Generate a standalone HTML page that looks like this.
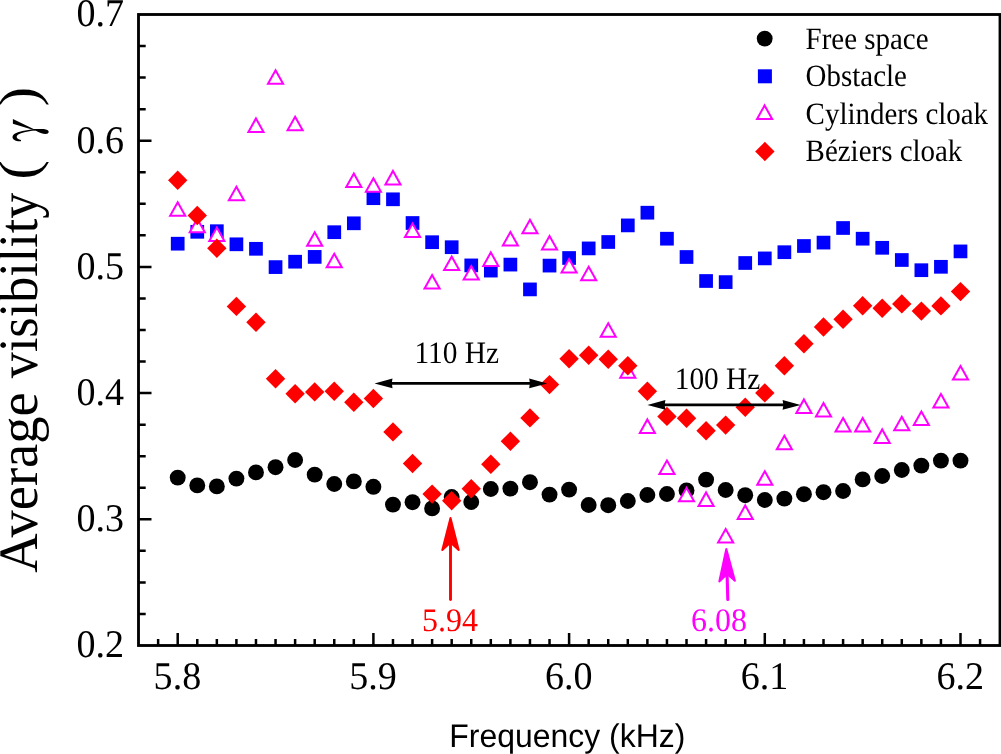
<!DOCTYPE html>
<html><head><meta charset="utf-8"><title>Average visibility</title>
<style>
html,body{margin:0;padding:0;background:#fff;}
body{width:1001px;height:754px;overflow:hidden;}
svg{display:block;}
text{font-family:"Liberation Serif",serif;text-rendering:geometricPrecision;}
.sans{font-family:"Liberation Sans",sans-serif;}
</style></head><body>
<svg width="1001" height="754" viewBox="0 0 1001 754" style="will-change:transform">
<rect x="0" y="0" width="1001" height="754" fill="#fff"/>
<path d="M139 613.95H145.7M139 582.40H145.7M139 550.85H145.7M139 519.30H151.5M139 487.75H145.7M139 456.20H145.7M139 424.65H145.7M139 393.10H151.5M139 361.55H145.7M139 330.00H145.7M139 298.45H145.7M139 266.90H151.5M139 235.35H145.7M139 203.80H145.7M139 172.25H145.7M139 140.70H151.5M139 109.15H145.7M139 77.60H145.7M139 46.05H145.7M158.13 645V639M177.70 645V633M197.27 645V639M216.84 645V639M236.41 645V639M255.98 645V639M275.55 645V639M295.12 645V639M314.69 645V639M334.26 645V639M353.83 645V639M373.40 645V633M392.97 645V639M412.54 645V639M432.11 645V639M451.68 645V639M471.25 645V639M490.82 645V639M510.39 645V639M529.96 645V639M549.53 645V639M569.10 645V633M588.67 645V639M608.24 645V639M627.81 645V639M647.38 645V639M666.95 645V639M686.52 645V639M706.09 645V639M725.66 645V639M745.23 645V639M764.80 645V633M784.37 645V639M803.94 645V639M823.51 645V639M843.08 645V639M862.65 645V639M882.22 645V639M901.79 645V639M921.36 645V639M940.93 645V639M960.50 645V633M980.07 645V639" stroke="#000" stroke-width="2.5" fill="none"/>
<rect x="138.5" y="14.5" width="861.5" height="631" fill="none" stroke="#000" stroke-width="2.85"/>
<text transform="translate(124.0 657.3) scale(0.972 1)" font-size="39.2" text-anchor="end" fill="#000">0.2</text>
<text transform="translate(124.0 531.1) scale(0.972 1)" font-size="39.2" text-anchor="end" fill="#000">0.3</text>
<text transform="translate(124.0 404.9) scale(0.972 1)" font-size="39.2" text-anchor="end" fill="#000">0.4</text>
<text transform="translate(124.0 278.7) scale(0.972 1)" font-size="39.2" text-anchor="end" fill="#000">0.5</text>
<text transform="translate(124.0 152.5) scale(0.972 1)" font-size="39.2" text-anchor="end" fill="#000">0.6</text>
<text transform="translate(124.0 26.3) scale(0.972 1)" font-size="39.2" text-anchor="end" fill="#000">0.7</text>
<text transform="translate(177.4 689.0) scale(0.972 1)" font-size="39.2" text-anchor="middle" fill="#000">5.8</text>
<text transform="translate(373.1 689.0) scale(0.972 1)" font-size="39.2" text-anchor="middle" fill="#000">5.9</text>
<text transform="translate(568.8 689.0) scale(0.972 1)" font-size="39.2" text-anchor="middle" fill="#000">6.0</text>
<text transform="translate(764.5 689.0) scale(0.972 1)" font-size="39.2" text-anchor="middle" fill="#000">6.1</text>
<text transform="translate(960.2 689.0) scale(0.972 1)" font-size="39.2" text-anchor="middle" fill="#000">6.2</text>
<text class="sans" transform="translate(449.3 746.9) scale(0.977 1.0)" font-size="32.7" text-anchor="start" fill="#000">Frequency (kHz)</text>
<text transform="translate(37.3 572.8) rotate(-90) scale(1.0 1.02)" font-size="54.5" text-anchor="start" fill="#000">Average</text>
<text transform="translate(37.3 378.2) rotate(-90) scale(0.957 1.02)" font-size="54.5" text-anchor="start" fill="#000">visibility</text>
<text transform="translate(37.3 179.5) rotate(-90) scale(1.06 1.02)" font-size="54.5" text-anchor="start" fill="#000">(</text>
<text transform="translate(37.3 106.3) rotate(-90) scale(1.06 1.02)" font-size="54.5" text-anchor="start" fill="#000">)</text>
<g transform="translate(0 110) scale(0.05995)" fill="#000"><path d="M215 150L560 318C620 318 680 312 730 318C780 325 812 340 812 362C812 385 790 400 760 400C710 400 650 370 600 345L215 228Z"/><path d="M590 322C500 325 400 345 300 372C240 390 208 420 208 452C208 490 250 518 300 520L350 520L350 500C310 495 278 475 278 448C278 420 310 400 350 388C420 365 520 345 590 342Z"/></g>
<g fill="#000"><circle cx="177.70" cy="477.60" r="7.95"/><circle cx="197.27" cy="485.40" r="7.95"/><circle cx="216.84" cy="486.40" r="7.95"/><circle cx="236.41" cy="478.60" r="7.95"/><circle cx="255.98" cy="472.40" r="7.95"/><circle cx="275.55" cy="467.20" r="7.95"/><circle cx="295.12" cy="460.00" r="7.95"/><circle cx="314.69" cy="474.60" r="7.95"/><circle cx="334.26" cy="484.00" r="7.95"/><circle cx="353.83" cy="481.40" r="7.95"/><circle cx="373.40" cy="486.80" r="7.95"/><circle cx="392.97" cy="504.60" r="7.95"/><circle cx="412.54" cy="502.20" r="7.95"/><circle cx="432.11" cy="508.40" r="7.95"/><circle cx="451.68" cy="497.00" r="7.95"/><circle cx="471.25" cy="502.00" r="7.95"/><circle cx="490.82" cy="489.00" r="7.95"/><circle cx="510.39" cy="488.60" r="7.95"/><circle cx="529.96" cy="482.20" r="7.95"/><circle cx="549.53" cy="494.60" r="7.95"/><circle cx="569.10" cy="489.60" r="7.95"/><circle cx="588.67" cy="505.00" r="7.95"/><circle cx="608.24" cy="505.20" r="7.95"/><circle cx="627.81" cy="501.00" r="7.95"/><circle cx="647.38" cy="495.00" r="7.95"/><circle cx="666.95" cy="494.00" r="7.95"/><circle cx="686.52" cy="490.40" r="7.95"/><circle cx="706.09" cy="479.60" r="7.95"/><circle cx="725.66" cy="490.00" r="7.95"/><circle cx="745.23" cy="495.20" r="7.95"/><circle cx="764.80" cy="500.00" r="7.95"/><circle cx="784.37" cy="498.60" r="7.95"/><circle cx="803.94" cy="494.20" r="7.95"/><circle cx="823.51" cy="492.20" r="7.95"/><circle cx="843.08" cy="491.00" r="7.95"/><circle cx="862.65" cy="479.40" r="7.95"/><circle cx="882.22" cy="476.00" r="7.95"/><circle cx="901.79" cy="470.00" r="7.95"/><circle cx="921.36" cy="465.60" r="7.95"/><circle cx="940.93" cy="460.60" r="7.95"/><circle cx="960.50" cy="460.60" r="7.95"/></g>
<g fill="#0000ff"><rect x="170.85" y="236.85" width="13.7" height="13.7"/><rect x="190.42" y="224.95" width="13.7" height="13.7"/><rect x="209.99" y="224.35" width="13.7" height="13.7"/><rect x="229.56" y="237.45" width="13.7" height="13.7"/><rect x="249.13" y="241.95" width="13.7" height="13.7"/><rect x="268.70" y="260.25" width="13.7" height="13.7"/><rect x="288.27" y="254.85" width="13.7" height="13.7"/><rect x="307.84" y="250.05" width="13.7" height="13.7"/><rect x="327.41" y="225.35" width="13.7" height="13.7"/><rect x="346.98" y="216.45" width="13.7" height="13.7"/><rect x="366.55" y="191.35" width="13.7" height="13.7"/><rect x="386.12" y="192.45" width="13.7" height="13.7"/><rect x="405.69" y="216.15" width="13.7" height="13.7"/><rect x="425.26" y="235.35" width="13.7" height="13.7"/><rect x="444.83" y="240.35" width="13.7" height="13.7"/><rect x="464.40" y="258.55" width="13.7" height="13.7"/><rect x="483.97" y="263.75" width="13.7" height="13.7"/><rect x="503.54" y="257.75" width="13.7" height="13.7"/><rect x="523.11" y="282.55" width="13.7" height="13.7"/><rect x="542.68" y="258.75" width="13.7" height="13.7"/><rect x="562.25" y="251.15" width="13.7" height="13.7"/><rect x="581.82" y="241.55" width="13.7" height="13.7"/><rect x="601.39" y="235.15" width="13.7" height="13.7"/><rect x="620.96" y="218.55" width="13.7" height="13.7"/><rect x="640.53" y="205.85" width="13.7" height="13.7"/><rect x="660.10" y="231.85" width="13.7" height="13.7"/><rect x="679.67" y="250.15" width="13.7" height="13.7"/><rect x="699.24" y="274.15" width="13.7" height="13.7"/><rect x="718.81" y="275.25" width="13.7" height="13.7"/><rect x="738.38" y="256.15" width="13.7" height="13.7"/><rect x="757.95" y="251.55" width="13.7" height="13.7"/><rect x="777.52" y="245.35" width="13.7" height="13.7"/><rect x="797.09" y="239.15" width="13.7" height="13.7"/><rect x="816.66" y="235.75" width="13.7" height="13.7"/><rect x="836.23" y="221.15" width="13.7" height="13.7"/><rect x="855.80" y="231.85" width="13.7" height="13.7"/><rect x="875.37" y="240.95" width="13.7" height="13.7"/><rect x="894.94" y="253.15" width="13.7" height="13.7"/><rect x="914.51" y="263.35" width="13.7" height="13.7"/><rect x="934.08" y="259.95" width="13.7" height="13.7"/><rect x="953.65" y="244.55" width="13.7" height="13.7"/></g>
<g fill="#fff" stroke="#ff00ff" stroke-width="2"><path d="M177.70 202.30L185.25 215.80L170.15 215.80Z"/><path d="M197.27 218.70L204.82 232.20L189.72 232.20Z"/><path d="M216.84 227.50L224.39 241.00L209.29 241.00Z"/><path d="M236.41 186.70L243.96 200.20L228.86 200.20Z"/><path d="M255.98 118.40L263.53 131.90L248.43 131.90Z"/><path d="M275.55 70.20L283.10 83.70L268.00 83.70Z"/><path d="M295.12 116.70L302.67 130.20L287.57 130.20Z"/><path d="M314.69 232.20L322.24 245.70L307.14 245.70Z"/><path d="M334.26 253.70L341.81 267.20L326.71 267.20Z"/><path d="M353.83 173.60L361.38 187.10L346.28 187.10Z"/><path d="M373.40 178.30L380.95 191.80L365.85 191.80Z"/><path d="M392.97 170.90L400.52 184.40L385.42 184.40Z"/><path d="M412.54 223.50L420.09 237.00L404.99 237.00Z"/><path d="M432.11 275.10L439.66 288.60L424.56 288.60Z"/><path d="M451.68 256.50L459.23 270.00L444.13 270.00Z"/><path d="M471.25 266.00L478.80 279.50L463.70 279.50Z"/><path d="M490.82 252.40L498.37 265.90L483.27 265.90Z"/><path d="M510.39 232.00L517.94 245.50L502.84 245.50Z"/><path d="M529.96 219.70L537.51 233.20L522.41 233.20Z"/><path d="M549.53 236.00L557.08 249.50L541.98 249.50Z"/><path d="M569.10 259.10L576.65 272.60L561.55 272.60Z"/><path d="M588.67 266.80L596.22 280.30L581.12 280.30Z"/><path d="M608.24 323.20L615.79 336.70L600.69 336.70Z"/><path d="M627.81 364.20L635.36 377.70L620.26 377.70Z"/><path d="M647.38 419.40L654.93 432.90L639.83 432.90Z"/><path d="M666.95 460.50L674.50 474.00L659.40 474.00Z"/><path d="M686.52 487.80L694.07 501.30L678.97 501.30Z"/><path d="M706.09 492.40L713.64 505.90L698.54 505.90Z"/><path d="M725.66 529.00L733.21 542.50L718.11 542.50Z"/><path d="M745.23 505.40L752.78 518.90L737.68 518.90Z"/><path d="M764.80 471.20L772.35 484.70L757.25 484.70Z"/><path d="M784.37 435.70L791.92 449.20L776.82 449.20Z"/><path d="M803.94 399.40L811.49 412.90L796.39 412.90Z"/><path d="M823.51 403.00L831.06 416.50L815.96 416.50Z"/><path d="M843.08 418.00L850.63 431.50L835.53 431.50Z"/><path d="M862.65 418.00L870.20 431.50L855.10 431.50Z"/><path d="M882.22 429.40L889.77 442.90L874.67 442.90Z"/><path d="M901.79 416.80L909.34 430.30L894.24 430.30Z"/><path d="M921.36 411.60L928.91 425.10L913.81 425.10Z"/><path d="M940.93 394.00L948.48 407.50L933.38 407.50Z"/><path d="M960.50 366.00L968.05 379.50L952.95 379.50Z"/></g>
<g fill="#ff0000"><path d="M177.70 170.60L187.40 180.30L177.70 190.00L168.00 180.30Z"/><path d="M197.27 205.80L206.97 215.50L197.27 225.20L187.57 215.50Z"/><path d="M216.84 238.50L226.54 248.20L216.84 257.90L207.14 248.20Z"/><path d="M236.41 296.70L246.11 306.40L236.41 316.10L226.71 306.40Z"/><path d="M255.98 312.60L265.68 322.30L255.98 332.00L246.28 322.30Z"/><path d="M275.55 369.10L285.25 378.80L275.55 388.50L265.85 378.80Z"/><path d="M295.12 384.00L304.82 393.70L295.12 403.40L285.42 393.70Z"/><path d="M314.69 382.20L324.39 391.90L314.69 401.60L304.99 391.90Z"/><path d="M334.26 381.60L343.96 391.30L334.26 401.00L324.56 391.30Z"/><path d="M353.83 392.60L363.53 402.30L353.83 412.00L344.13 402.30Z"/><path d="M373.40 388.80L383.10 398.50L373.40 408.20L363.70 398.50Z"/><path d="M392.97 422.20L402.67 431.90L392.97 441.60L383.27 431.90Z"/><path d="M412.54 453.80L422.24 463.50L412.54 473.20L402.84 463.50Z"/><path d="M432.11 484.40L441.81 494.10L432.11 503.80L422.41 494.10Z"/><path d="M451.68 491.00L461.38 500.70L451.68 510.40L441.98 500.70Z"/><path d="M471.25 479.00L480.95 488.70L471.25 498.40L461.55 488.70Z"/><path d="M490.82 454.50L500.52 464.20L490.82 473.90L481.12 464.20Z"/><path d="M510.39 431.60L520.09 441.30L510.39 451.00L500.69 441.30Z"/><path d="M529.96 408.20L539.66 417.90L529.96 427.60L520.26 417.90Z"/><path d="M549.53 374.90L559.23 384.60L549.53 394.30L539.83 384.60Z"/><path d="M569.10 349.00L578.80 358.70L569.10 368.40L559.40 358.70Z"/><path d="M588.67 345.50L598.37 355.20L588.67 364.90L578.97 355.20Z"/><path d="M608.24 349.60L617.94 359.30L608.24 369.00L598.54 359.30Z"/><path d="M627.81 356.00L637.51 365.70L627.81 375.40L618.11 365.70Z"/><path d="M647.38 381.60L657.08 391.30L647.38 401.00L637.68 391.30Z"/><path d="M666.95 406.70L676.65 416.40L666.95 426.10L657.25 416.40Z"/><path d="M686.52 408.60L696.22 418.30L686.52 428.00L676.82 418.30Z"/><path d="M706.09 421.00L715.79 430.70L706.09 440.40L696.39 430.70Z"/><path d="M725.66 415.40L735.36 425.10L725.66 434.80L715.96 425.10Z"/><path d="M745.23 397.60L754.93 407.30L745.23 417.00L735.53 407.30Z"/><path d="M764.80 383.20L774.50 392.90L764.80 402.60L755.10 392.90Z"/><path d="M784.37 356.00L794.07 365.70L784.37 375.40L774.67 365.70Z"/><path d="M803.94 334.00L813.64 343.70L803.94 353.40L794.24 343.70Z"/><path d="M823.51 317.30L833.21 327.00L823.51 336.70L813.81 327.00Z"/><path d="M843.08 309.60L852.78 319.30L843.08 329.00L833.38 319.30Z"/><path d="M862.65 296.00L872.35 305.70L862.65 315.40L852.95 305.70Z"/><path d="M882.22 298.60L891.92 308.30L882.22 318.00L872.52 308.30Z"/><path d="M901.79 294.20L911.49 303.90L901.79 313.60L892.09 303.90Z"/><path d="M921.36 301.40L931.06 311.10L921.36 320.80L911.66 311.10Z"/><path d="M940.93 296.20L950.63 305.90L940.93 315.60L931.23 305.90Z"/><path d="M960.50 281.90L970.20 291.60L960.50 301.30L950.80 291.60Z"/></g>
<circle cx="764.7" cy="38.6" r="7.9" fill="#000"/>
<rect x="757.9" y="69.3" width="14" height="14" fill="#0000ff"/>
<g fill="#fff" stroke="#ff00ff" stroke-width="2"><path d="M764.60 105.40L772.15 118.90L757.05 118.90Z"/></g>
<g fill="#ff0000"><path d="M764.85 141.80L774.55 151.50L764.85 161.20L755.15 151.50Z"/></g>
<text transform="translate(805.6 49.2) scale(0.931 1.0)" font-size="31.1" text-anchor="start" fill="#000">Free space</text>
<text transform="translate(805.6 86.2) scale(0.931 1.0)" font-size="31.1" text-anchor="start" fill="#000">Obstacle</text>
<text transform="translate(805.6 124.0) scale(0.931 1.0)" font-size="31.1" text-anchor="start" fill="#000">Cylinders cloak</text>
<text transform="translate(805.6 161.3) scale(0.931 1.0)" font-size="31.1" text-anchor="start" fill="#000">Béziers cloak</text>
<path d="M390.5 383.4H531.2" stroke="#000" stroke-width="2.6" fill="none"/><path d="M374.5 383.4L392.5 378.5Q391.0 383.4 392.5 388.29999999999995Z" fill="#000"/><path d="M547.2 383.4L529.2 378.5Q530.7 383.4 529.2 388.29999999999995Z" fill="#000"/>
<path d="M663.4 404.9H784.6" stroke="#000" stroke-width="2.6" fill="none"/><path d="M647.4 404.9L665.4 400.0Q663.9 404.9 665.4 409.79999999999995Z" fill="#000"/><path d="M800.6 404.9L782.6 400.0Q784.1 404.9 782.6 409.79999999999995Z" fill="#000"/>
<text transform="translate(414.5 362.8) scale(0.942 1)" font-size="31.2" text-anchor="start" fill="#000">110 Hz</text>
<text transform="translate(674.8 389.0) scale(0.94 1)" font-size="31.2" text-anchor="start" fill="#000">100 Hz</text>
<path d="M450.5 599.5V530" stroke="#ff0000" stroke-width="2.9" stroke-linecap="round" fill="none"/>
<path d="M450.5 518L458.7 550L450.5 542.5L442.3 550Z" fill="#ff0000" stroke="#ff0000" stroke-width="2" stroke-linejoin="round"/>
<text transform="translate(450.0 630.6) scale(0.972 1)" font-size="32.9" text-anchor="middle" fill="#ff0000">5.94</text>
<path d="M727.8 599.5L726.7 560" stroke="#ff00ff" stroke-width="3.1" stroke-linecap="round" fill="none"/>
<path d="M726.3 549L734.9 580.8L727.2 574L719.3 581.4Z" fill="#ff00ff" stroke="#ff00ff" stroke-width="2" stroke-linejoin="round"/>
<text transform="translate(719 630.6) scale(0.972 1)" font-size="32.9" text-anchor="middle" fill="#ff00ff">6.08</text>
</svg></body></html>
